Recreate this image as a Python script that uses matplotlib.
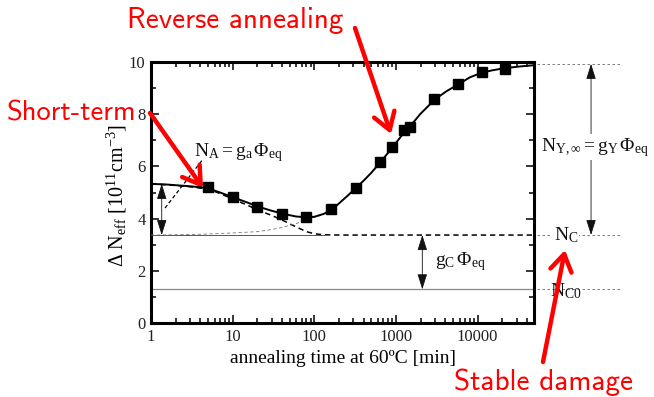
import matplotlib
matplotlib.use("Agg")
import matplotlib.pyplot as plt
from matplotlib.ticker import FixedLocator, LogLocator, NullFormatter
from matplotlib.transforms import blended_transform_factory

# measured points (annealing time in min, delta Neff in 1e11 cm^-3)
t_meas = [5, 10, 20, 40, 80, 160, 320, 640, 890, 1260, 1470, 2880, 5670, 11300, 21400]
n_meas = [5.20, 4.82, 4.46, 4.18, 4.07, 4.38, 5.17, 6.15, 6.74, 7.38, 7.50, 8.60, 9.15, 9.62, 9.72]

# full fit curve
t_fit = [1, 1.5, 2, 3, 4, 5, 7, 10, 15, 20, 30, 40, 50, 60, 80, 100, 130, 160, 200,
         250, 300, 400, 500, 700, 900, 1200, 1500, 2000, 3000, 4200, 6000, 8000,
         11000, 15000, 21000, 33000, 50000]
n_fit = [5.33, 5.31, 5.28, 5.24, 5.20, 5.16, 5.00, 4.82, 4.62, 4.47, 4.30, 4.20, 4.13,
         4.08, 4.05, 4.07, 4.18, 4.32, 4.58, 4.85, 5.08, 5.45, 5.76, 6.30, 6.72, 7.22,
         7.55, 8.02, 8.57, 8.89, 9.17, 9.41, 9.58, 9.68, 9.76, 9.83, 9.88]

# short-term annealing component (on top of stable damage)
t_short = [1, 2, 3, 5, 7, 10, 15, 20, 30, 40, 50, 60, 80, 100, 130, 200, 1000, 50000]
n_short = [5.33, 5.27, 5.22, 5.13, 4.96, 4.75, 4.52, 4.34, 4.12, 3.95, 3.80, 3.68,
           3.50, 3.42, 3.38, 3.37, 3.37, 3.37]

# reverse annealing component (on top of stable damage)
t_rev = [1, 3, 5, 10, 20, 30, 40, 60, 80, 100, 120]
n_rev = [3.37, 3.39, 3.41, 3.45, 3.50, 3.58, 3.66, 3.81, 3.95, 4.05, 4.12]

N_C = 3.37
N_C0 = 1.29
N_inf = 9.93

plt.rcParams["font.family"] = ["Liberation Serif", "DejaVu Serif"]
plt.rcParams["mathtext.fontset"] = "custom"
plt.rcParams["mathtext.rm"] = "Liberation Serif"
plt.rcParams["mathtext.it"] = "Liberation Serif:italic"

fig = plt.figure(figsize=(6.54, 3.97), dpi=100)
ax = fig.add_axes([0.231, 0.1864, 0.5855, 0.6574])

ax.plot(t_fit, n_fit, color="black", lw=1.4, zorder=4)
ax.plot(t_short, n_short, color="black", lw=1.1, ls=(0, (3.5, 2.5)), zorder=3)
ax.plot(t_rev, n_rev, color="#777777", lw=0.6, ls=(0, (4, 3)), zorder=3)
ax.plot([1, 130], [N_C, N_C], color="#555555", lw=0.7, zorder=2)
ax.axhline(N_C0, color="#888888", lw=0.9, zorder=2)
ax.plot(t_meas, n_meas, ls="none", marker="s", ms=7, color="black", zorder=5)

ax.set_xscale("log")
ax.set_xlim(1, 49000)
ax.set_ylim(0, 10)
ax.set_xticks([1, 10, 100, 1000, 10000])
ax.set_xticklabels(["1", "10", "100", "1000", "10000"])
ax.xaxis.set_minor_locator(LogLocator(base=10, subs=range(2, 10)))
ax.xaxis.set_minor_formatter(NullFormatter())
ax.set_yticks([0, 2, 4, 6, 8, 10])
ax.yaxis.set_minor_locator(FixedLocator([1, 3, 5, 7, 9]))
ax.tick_params(which="both", direction="in", top=True, right=True, width=1.1,
               labelsize=12, labelcolor="#222222", pad=4)
ax.tick_params(which="major", length=6)
ax.tick_params(which="minor", length=3.5)
for s in ax.spines.values():
    s.set_linewidth(2.2)

ax.set_xlabel("annealing time at 60ºC [min]", fontsize=14, labelpad=4)
ax.set_ylabel(r"Δ N$_{\rm eff}$ [10$^{11}$cm$^{-3}$]", fontsize=14.5)
ax.yaxis.set_label_coords(-0.058, 0.49)

arr = dict(arrowstyle="<|-|>,head_length=0.95,head_width=0.3", color="#111111",
           lw=0.6, shrinkA=0, shrinkB=0, mutation_scale=10)
ax.annotate("", xy=(1.35, N_C), xytext=(1.35, n_fit[0]), arrowprops=arr)
ax.annotate("", xy=(2100, N_C0), xytext=(2100, N_C), arrowprops=arr)

# outside guides on the right
tr = blended_transform_factory(ax.transAxes, ax.transData)
for lvl in (N_inf, N_C, N_C0):
    ax.plot([1.008, 1.225], [lvl, lvl], transform=tr, color="#666666", lw=0.6,
            ls=(0, (3, 3)), clip_on=False)
ax.annotate("", xy=(1.149, N_C), xytext=(1.149, N_inf), xycoords=tr, textcoords=tr,
            arrowprops=arr)

box = dict(facecolor="white", edgecolor="none", pad=1)
ax.text(1.159, 6.74, r"$\mathrm{N_{Y,\infty} = g_Y\,\Phi_{eq}}$", transform=tr,
        fontsize=14, ha="center", va="center", bbox=box, color="#111111")
ax.text(1.083, N_C, r"$\mathrm{N_C}$", transform=tr, fontsize=14, ha="center",
        va="center", bbox=box, color="#111111")
ax.text(1.083, N_C0 - 0.08, r"$\mathrm{N_{C0}}$", transform=tr, fontsize=14,
        ha="center", va="center", color="#111111")
ax.text(3000, 2.35, r"$\mathrm{g_C\,\Phi_{eq}}$", fontsize=14, ha="left", va="center",
        color="#111111")
ax.text(3.4, 6.55, r"$\mathrm{N_A = g_a\,\Phi_{eq}}$", fontsize=14, ha="left",
        va="center", color="#111111")
ax.plot([4.18, 1.42], [6.22, 4.33], color="black", lw=0.9, ls=(0, (3, 2)))

# red callouts in figure pixels
red = dict(arrowstyle="->,head_length=0.55,head_width=0.35", color="red", lw=3.2,
           mutation_scale=22, shrinkA=0, shrinkB=0)
sans = ["cmss10", "DejaVu Sans"]
fig.text(72 / 654, 1 - 113 / 397, "Short-term", color="red", fontsize=20.5,
         family=sans, ha="center", va="center")
ax.annotate("", xy=(203 / 654, 1 - 188 / 397), xytext=(150 / 654, 1 - 113 / 397),
            xycoords="figure fraction", textcoords="figure fraction", arrowprops=red)
fig.text(235 / 654, 1 - 20 / 397, "Reverse annealing", color="red", fontsize=21,
         family=sans, ha="center", va="center")
ax.annotate("", xy=(391 / 654, 1 - 134 / 397), xytext=(355 / 654, 1 - 28 / 397),
            xycoords="figure fraction", textcoords="figure fraction", arrowprops=red)
fig.text(543 / 654, 1 - 382 / 397, "Stable damage", color="red", fontsize=21,
         family=sans, ha="center", va="center")
ax.annotate("", xy=(565 / 654, 1 - 250 / 397), xytext=(543 / 654, 1 - 362 / 397),
            xycoords="figure fraction", textcoords="figure fraction", arrowprops=red)

fig.savefig("out.png", dpi=100)
